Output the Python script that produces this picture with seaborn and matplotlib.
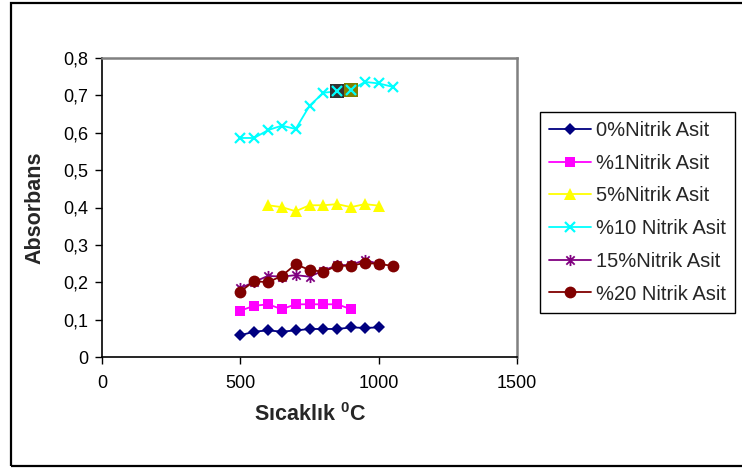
import numpy as np
import pandas as pd
import matplotlib
matplotlib.use("Agg")
import matplotlib.pyplot as plt
import seaborn as sns
from matplotlib.path import Path
from matplotlib.patches import Rectangle

# ---- data ----
x_0 = [500, 550, 600, 650, 700, 750, 800, 850, 900, 950, 1000]
y_0 = [0.058, 0.068, 0.071, 0.068, 0.071, 0.075, 0.075, 0.075, 0.079, 0.078, 0.079]

x_1 = [500, 550, 600, 650, 700, 750, 800, 850, 900]
y_1 = [0.124, 0.137, 0.141, 0.128, 0.141, 0.141, 0.141, 0.141, 0.128]

x_5 = [600, 650, 700, 750, 800, 850, 900, 950, 1000]
y_5 = [0.406, 0.401, 0.390, 0.406, 0.406, 0.409, 0.401, 0.409, 0.405]

x_10 = [500, 550, 600, 650, 700, 750, 800, 850, 900, 950, 1000, 1050]
y_10 = [0.586, 0.586, 0.607, 0.619, 0.610, 0.672, 0.707, 0.711, 0.714, 0.736, 0.732, 0.723]

x_15 = [500, 550, 600, 650, 700, 750, 800, 850, 900, 950, 1000]
y_15 = [0.184, 0.201, 0.217, 0.215, 0.219, 0.215, 0.231, 0.246, 0.246, 0.260, 0.249]

x_20 = [500, 550, 600, 650, 700, 750, 800, 850, 900, 950, 1000, 1050]
y_20 = [0.175, 0.203, 0.200, 0.217, 0.248, 0.233, 0.228, 0.244, 0.244, 0.252, 0.249, 0.244]

labels = ["0%Nitrik Asit", "%1Nitrik Asit", "5%Nitrik Asit",
          "%10 Nitrik Asit", "15%Nitrik Asit", "%20 Nitrik Asit"]
highlight_idx = [7, 8]  # points of the %10 series with square backgrounds

x_ticks = [0, 500, 1000, 1500]
y_ticks = [0, 0.1, 0.2, 0.3, 0.4, 0.5, 0.6, 0.7, 0.8]
y_tick_labels = ["0", "0,1", "0,2", "0,3", "0,4", "0,5", "0,6", "0,7", "0,8"]

# ---- style ----
sns.set_theme(style="white")
plt.rcParams["font.family"] = ["Liberation Sans", "DejaVu Sans"]
plt.rcParams["mathtext.fontset"] = "custom"
plt.rcParams["mathtext.bf"] = "Liberation Sans:bold"
plt.rcParams["mathtext.rm"] = "Liberation Sans:bold"

asterisk = Path([(0, -1), (0, 1), (-0.75, -0.75), (0.75, 0.75), (-0.75, 0.75), (0.75, -0.75)],
                [Path.MOVETO, Path.LINETO, Path.MOVETO, Path.LINETO, Path.MOVETO, Path.LINETO])

styles = [
    dict(color="#000080", marker="D", ms=6.5, mew=0),
    dict(color="#FF00FF", marker="s", ms=7, mew=0),
    dict(color="#FFFF00", marker="^", ms=8, mew=0),
    dict(color="#00FFFF", marker="x", ms=7, mew=1.6),
    dict(color="#800080", marker=asterisk, ms=8, mew=1.3),
    dict(color="#800000", marker="o", ms=8.5, mew=0),
]
series = [(x_0, y_0), (x_1, y_1), (x_5, y_5), (x_10, y_10), (x_15, y_15), (x_20, y_20)]

fig = plt.figure(figsize=(7.42, 4.68), dpi=100)
ax = fig.add_axes([102 / 742, 1 - 357 / 468, (517 - 102) / 742, (357 - 58) / 468])

for (xs, ys), lab, st in zip(series, labels, styles):
    sns.lineplot(x=xs, y=ys, ax=ax, color=st["color"], marker=st["marker"],
                 markersize=st["ms"], markeredgewidth=st["mew"],
                 markeredgecolor=st["color"], markerfacecolor=st["color"],
                 linewidth=1.3, label=lab, estimator=None, sort=False)
    if lab == "%10 Nitrik Asit":
        hx = [xs[i] for i in highlight_idx]
        hy = [ys[i] for i in highlight_idx]
        for px, py, c in zip(hx, hy, ["#333333", "#808000"]):
            ax.plot([px], [py], linestyle="none", marker="s", ms=10.5, color=c, mew=0, zorder=3)
        ax.plot(hx, hy, linestyle="none", marker="x", ms=st["ms"], mew=st["mew"],
                color=st["color"], zorder=4)

ax.set_xlim(0, 1500)
ax.set_ylim(0, 0.8)
ax.set_xticks(x_ticks)
ax.set_xticklabels([str(t) for t in x_ticks])
ax.set_yticks(y_ticks)
ax.set_yticklabels(y_tick_labels)
ax.tick_params(axis="both", labelsize=13, colors="black", direction="out", length=5, width=1)
ax.tick_params(axis="x", pad=8)
ax.tick_params(axis="y", pad=5)
ax.xaxis.set_ticks_position("bottom")
ax.yaxis.set_ticks_position("left")

for side in ["left", "bottom"]:
    ax.spines[side].set_color("black")
    ax.spines[side].set_linewidth(1.2)
for side in ["top", "right"]:
    ax.spines[side].set_color("#808080")
    ax.spines[side].set_linewidth(1.8)

ax.set_xlabel("")
ax.set_ylabel("")
fig.text(310 / 742, 1 - 415 / 468, r"Sıcaklık $\mathbf{^{0}}$C", ha="center", va="center",
         fontsize=15.5, fontweight="bold")
fig.text(35 / 742, 1 - 208 / 468, "Absorbans", ha="center", va="center",
         rotation=90, fontsize=15.5, fontweight="bold")

leg = ax.legend(loc="upper left", bbox_to_anchor=(540 / 742, 1 - 112 / 468),
                bbox_transform=fig.transFigure, fontsize=14.5, frameon=True,
                fancybox=False, shadow=False, borderaxespad=0, handlelength=2.1,
                handletextpad=0.25, labelspacing=0.68, borderpad=0.45, framealpha=1)
leg.get_frame().set_edgecolor("black")
leg.get_frame().set_linewidth(1.0)

fig.patches.append(Rectangle((11 / 742, 2 / 468), 1.2, 463 / 468, transform=fig.transFigure,
                             fill=False, edgecolor="black", linewidth=1.6, figure=fig))

fig.savefig("out.png", dpi=100)
